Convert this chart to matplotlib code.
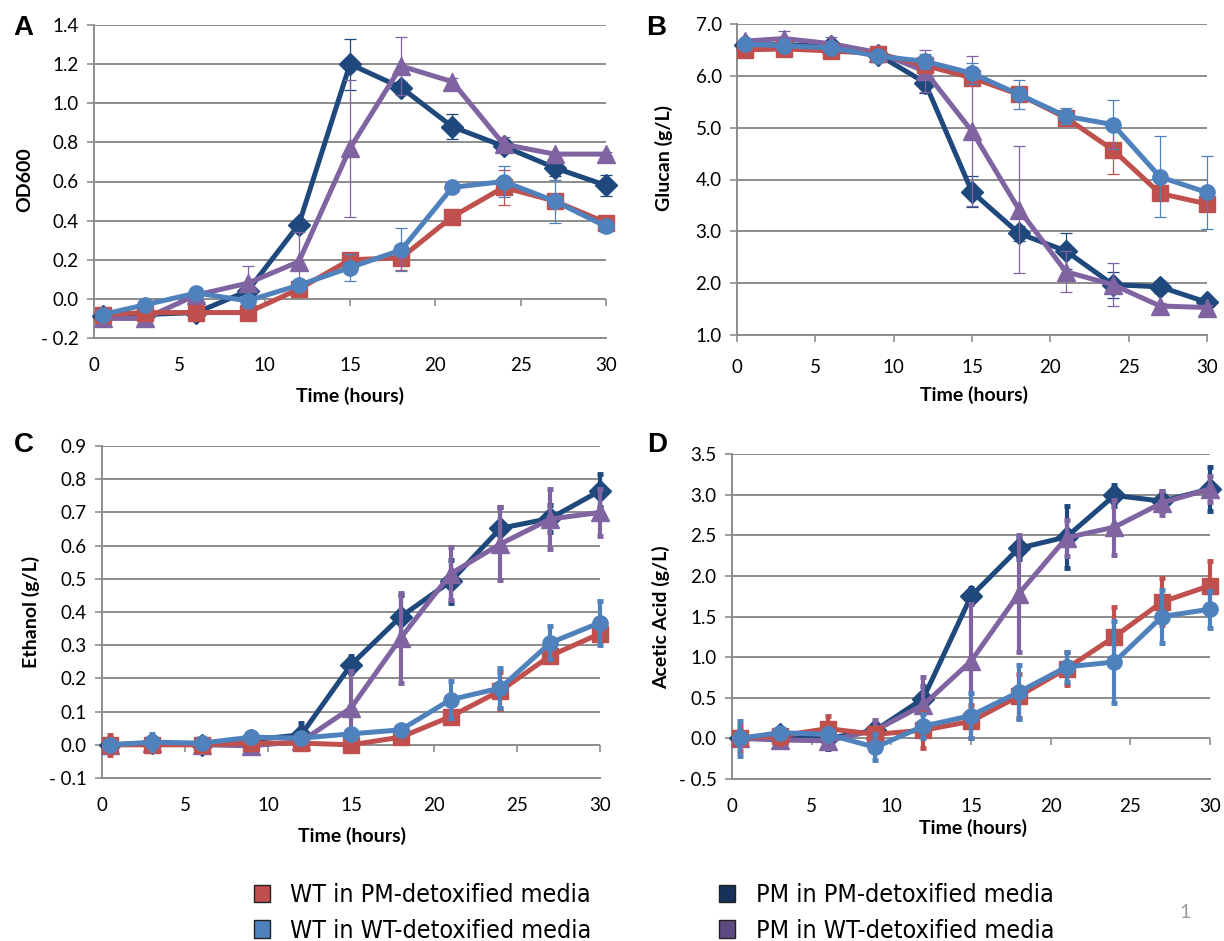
import matplotlib
matplotlib.use('Agg')
import matplotlib.pyplot as plt
from matplotlib.ticker import FuncFormatter, MultipleLocator
from matplotlib.patches import Patch

plt.rcParams['font.family'] = ['Lato', 'DejaVu Sans']

# ── Data ─────────────────────────────────────────────────────────────────────
hours = [0.5, 3, 6, 9, 12, 15, 18, 21, 24, 27, 30]

series_names = ['WT in PM-detoxified media', 'WT in WT-detoxified media',
                'PM in PM-detoxified media', 'PM in WT-detoxified media']

# A: OD600
od_wt_pm = [-0.08, -0.07, -0.07, -0.07, 0.05, 0.20, 0.21, 0.42, 0.57, 0.50, 0.39]
od_wt_pm_err = [0.01, 0.01, 0.01, 0.01, 0.02, 0.02, 0.06, 0.02, 0.09, 0.03, 0.02]
od_wt_wt = [-0.08, -0.03, 0.03, -0.01, 0.07, 0.16, 0.25, 0.57, 0.60, 0.50, 0.37]
od_wt_wt_err = [0.01, 0.01, 0.01, 0.01, 0.02, 0.07, 0.11, 0.02, 0.08, 0.11, 0.03]
od_pm_pm = [-0.09, -0.08, -0.07, 0.04, 0.38, 1.20, 1.08, 0.88, 0.78, 0.67, 0.58]
od_pm_pm_err = [0.01, 0.01, 0.01, 0.01, 0.02, 0.13, 0.03, 0.065, 0.03, 0.04, 0.055]
od_pm_wt = [-0.10, -0.10, 0.02, 0.08, 0.19, 0.77, 1.19, 1.11, 0.79, 0.74, 0.74]
od_pm_wt_err = [0.01, 0.01, 0.01, 0.09, 0.15, 0.35, 0.15, 0.02, 0.04, 0.01, 0.01]

# B: Glucan (g/L)
gl_wt_pm = [6.50, 6.52, 6.48, 6.43, 6.20, 5.96, 5.64, 5.19, 4.57, 3.73, 3.53]
gl_wt_pm_err = [0.05, 0.05, 0.05, 0.05, 0.05, 0.05, 0.1, 0.1, 0.46, 0.1, 0.1]
gl_wt_wt = [6.61, 6.58, 6.54, 6.38, 6.28, 6.05, 5.64, 5.22, 5.06, 4.05, 3.75]
gl_wt_wt_err = [0.05, 0.05, 0.05, 0.05, 0.15, 0.2, 0.28, 0.15, 0.48, 0.78, 0.71]
gl_pm_pm = [6.60, 6.60, 6.57, 6.41, 5.87, 3.76, 2.96, 2.62, 1.97, 1.93, 1.63]
gl_pm_pm_err = [0.05, 0.05, 0.05, 0.05, 0.2, 0.3, 0.15, 0.35, 0.25, 0.12, 0.05]
gl_pm_wt = [6.67, 6.72, 6.62, 6.45, 6.09, 4.93, 3.42, 2.22, 1.97, 1.56, 1.53]
gl_pm_wt_err = [0.05, 0.15, 0.12, 0.1, 0.4, 1.45, 1.23, 0.4, 0.42, 0.05, 0.05]

# C: Ethanol (g/L)
et_wt_pm = [0.0, 0.0, 0.0, 0.005, 0.005, 0.0, 0.023, 0.085, 0.163, 0.268, 0.335]
et_wt_pm_err = [0.03, 0.02, 0.01, 0.01, 0.01, 0.02, 0.01, 0.01, 0.055, 0.01, 0.02]
et_wt_wt = [0.0, 0.008, 0.005, 0.023, 0.02, 0.033, 0.045, 0.136, 0.171, 0.307, 0.368]
et_wt_wt_err = [0.01, 0.025, 0.01, 0.01, 0.01, 0.01, 0.01, 0.055, 0.06, 0.05, 0.066]
et_pm_pm = [0.0, 0.005, 0.0, 0.015, 0.03, 0.241, 0.386, 0.492, 0.652, 0.682, 0.765]
et_pm_pm_err = [0.01, 0.01, 0.01, 0.01, 0.035, 0.025, 0.065, 0.065, 0.065, 0.04, 0.05]
et_pm_wt = [0.0, 0.005, 0.0, -0.003, 0.01, 0.111, 0.322, 0.515, 0.605, 0.68, 0.70]
et_pm_wt_err = [0.01, 0.01, 0.01, 0.01, 0.01, 0.11, 0.135, 0.08, 0.11, 0.09, 0.07]

# D: Acetic Acid (g/L)
aa_wt_pm = [0.0, 0.03, 0.12, 0.05, 0.10, 0.21, 0.52, 0.86, 1.25, 1.68, 1.88]
aa_wt_pm_err = [0.15, 0.1, 0.15, 0.05, 0.22, 0.2, 0.27, 0.2, 0.37, 0.29, 0.3]
aa_wt_wt = [0.0, 0.07, 0.05, -0.11, 0.15, 0.28, 0.57, 0.88, 0.94, 1.50, 1.59]
aa_wt_wt_err = [0.22, 0.06, 0.08, 0.16, 0.15, 0.28, 0.33, 0.18, 0.51, 0.33, 0.23]
aa_pm_pm = [0.0, 0.05, 0.0, 0.10, 0.49, 1.75, 2.34, 2.48, 2.99, 2.92, 3.07]
aa_pm_pm_err = [0.05, 0.05, 0.13, 0.05, 0.15, 0.1, 0.13, 0.38, 0.13, 0.12, 0.27]
aa_pm_wt = [0.0, -0.02, -0.03, 0.10, 0.41, 0.95, 1.78, 2.47, 2.60, 2.90, 3.07]
aa_pm_wt_err = [0.05, 0.05, 0.05, 0.13, 0.35, 0.7, 0.72, 0.22, 0.34, 0.15, 0.16]

# ── Styles ───────────────────────────────────────────────────────────────────
C_RED = '#C0504D'
C_BLUE = '#4F81BD'
C_NAVY = '#1F497D'
C_PURPLE = '#8064A2'
GRID = '#8C8C8C'

# draw order: navy, purple, red, blue (blue on top)
STYLE = [
    (C_NAVY, 'D', 11),
    (C_PURPLE, '^', 13),
    (C_RED, 's', 11.5),
    (C_BLUE, 'o', 11),
]

W, H = 1224, 941
fig = plt.figure(figsize=(W / 100, H / 100), dpi=100, facecolor='white')


def box(l, t, r, b):
    return [l / W, 1 - b / H, (r - l) / W, (b - t) / H]


def px(x, y):
    return x / W, 1 - y / H


def fmt(v, _):
    if v < -1e-9:
        return '- %.1f' % abs(v)
    return '%.1f' % abs(v)


def panel(rect, data, ylim, ystep, thick_err, zero_axis):
    ax = fig.add_axes(rect)
    for i, (y, e) in enumerate(data):
        color, mk, ms = STYLE[i]
        if thick_err:
            ekw = dict(elinewidth=3, capsize=2.5, capthick=3.5)
        else:
            ekw = dict(elinewidth=0.9, capsize=4, capthick=0.9)
        ax.errorbar(hours, y, yerr=e, color=color, lw=3.6, marker=mk, ms=ms,
                    mec=color, mfc=color, zorder=3 + i, clip_on=False, **ekw)
    ax.set_xlim(0, 30)
    ax.set_ylim(*ylim)
    ax.xaxis.set_major_locator(MultipleLocator(5))
    ax.yaxis.set_major_locator(MultipleLocator(ystep))
    ax.yaxis.set_major_formatter(FuncFormatter(fmt))
    ax.grid(axis='y', color=GRID, lw=1.4)
    ax.set_axisbelow(True)
    for s in ['top', 'right']:
        ax.spines[s].set_visible(False)
    ax.spines['left'].set_color(GRID)
    ax.spines['left'].set_linewidth(1.4)
    ax.spines['bottom'].set_color(GRID)
    ax.spines['bottom'].set_linewidth(1.4)
    ax.tick_params(axis='y', length=5, width=1.2, color=GRID, pad=6,
                   labelsize=13.5)
    if zero_axis:
        ax.tick_params(axis='x', length=0, pad=14, labelsize=13.5)
        sec = ax.secondary_xaxis((0 - ylim[0]) / (ylim[1] - ylim[0]))
        sec.xaxis.set_major_locator(MultipleLocator(5))
        sec.spines['bottom'].set_visible(False)
        sec.tick_params(axis='x', length=5, width=1.2, color=GRID,
                        labelbottom=False)
    else:
        ax.tick_params(axis='x', length=5, width=1.2, color=GRID, pad=12,
                       labelsize=13.5)
    return ax


# ── Panels ───────────────────────────────────────────────────────────────────
panel(box(94, 25, 606, 338),
      [(od_pm_pm, od_pm_pm_err), (od_pm_wt, od_pm_wt_err),
       (od_wt_pm, od_wt_pm_err), (od_wt_wt, od_wt_wt_err)],
      (-0.2, 1.4), 0.2, False, True)
panel(box(737, 24, 1207, 335),
      [(gl_pm_pm, gl_pm_pm_err), (gl_pm_wt, gl_pm_wt_err),
       (gl_wt_pm, gl_wt_pm_err), (gl_wt_wt, gl_wt_wt_err)],
      (1.0, 7.0), 1.0, False, False)
panel(box(102, 446, 600, 778),
      [(et_pm_pm, et_pm_pm_err), (et_pm_wt, et_pm_wt_err),
       (et_wt_pm, et_wt_pm_err), (et_wt_wt, et_wt_wt_err)],
      (-0.1, 0.9), 0.1, True, True)
panel(box(732, 454, 1210, 779),
      [(aa_pm_pm, aa_pm_pm_err), (aa_pm_wt, aa_pm_wt_err),
       (aa_wt_pm, aa_wt_pm_err), (aa_wt_wt, aa_wt_wt_err)],
      (-0.5, 3.5), 0.5, True, True)

# ── Labels ───────────────────────────────────────────────────────────────────
lab = dict(fontsize=14, fontweight='bold', ha='center', va='center')
for (x, y), t in zip([(25, 180), (664, 158), (31, 612), (661, 617)],
                     ['OD600', 'Glucan (g/L)', 'Ethanol (g/L)', 'Acetic Acid (g/L)']):
    fig.text(*px(x, y), t, rotation=90, **lab)
for (x, y) in [(350, 396), (974, 395), (352, 836), (973, 828)]:
    fig.text(*px(x, y), 'Time (hours)', **lab)
for (x, y), t in zip([(23, 28), (656, 28), (24, 445), (657, 445)], 'ABCD'):
    fig.text(*px(x, y), t, fontsize=20, fontweight='bold', ha='center',
             va='center', family=['Liberation Sans', 'DejaVu Sans'])

# ── Legend ───────────────────────────────────────────────────────────────────
handles = [Patch(facecolor=c, edgecolor='#222222', lw=1)
           for c in [C_RED, C_BLUE, '#17325A', '#5E4A80']]
leg = fig.legend(handles, series_names,
                 ncol=2, loc='center left', bbox_to_anchor=px(231, 913),
                 frameon=False, handlelength=0.64, handleheight=0.7,
                 handletextpad=0.84, columnspacing=5.1, labelspacing=0.45,
                 prop={'family': ['DejaVu Sans'], 'stretch': 'condensed',
                       'size': 18})

fig.text(*px(1185, 912), '1', fontsize=14, color='#999999', ha='center',
         va='center')

fig.savefig('out.png', dpi=100, facecolor='white')
